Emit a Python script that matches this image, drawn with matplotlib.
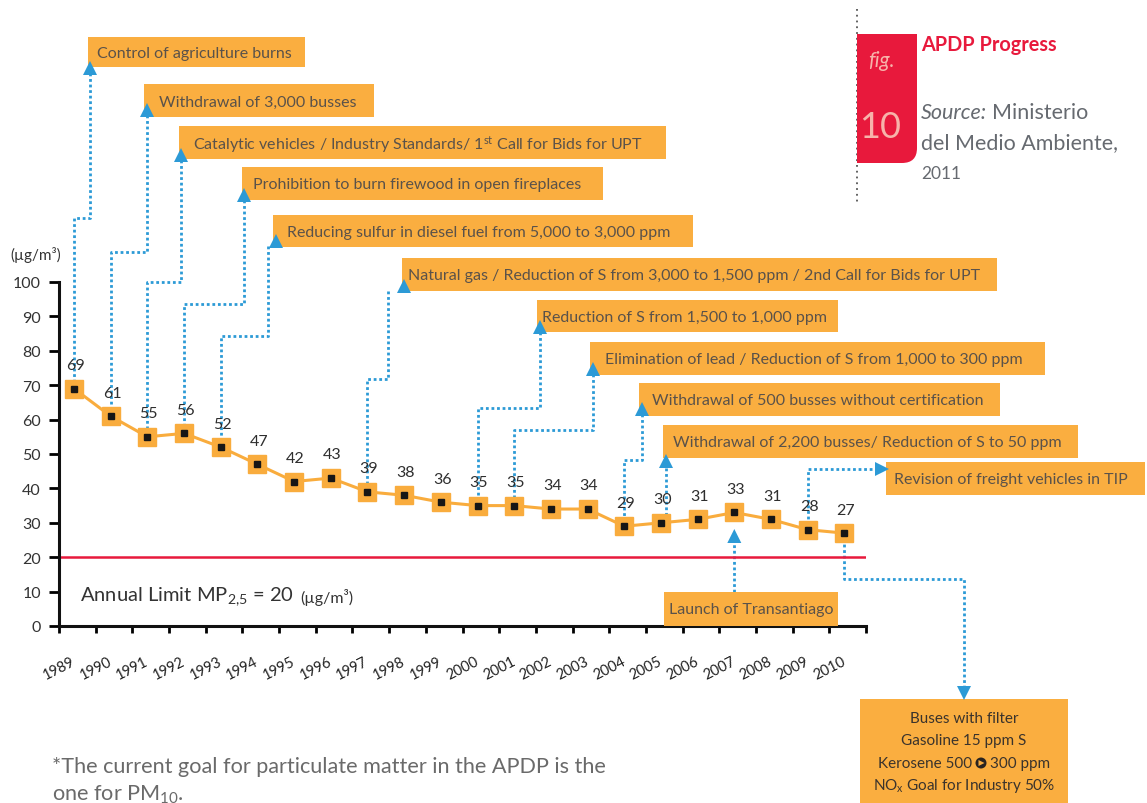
import matplotlib
matplotlib.use('Agg')
import matplotlib.pyplot as plt
from matplotlib.patches import Rectangle, Polygon, PathPatch, Circle
from matplotlib.path import Path

# ---------------- data ----------------
years = ['1989', '1990', '1991', '1992', '1993', '1994', '1995', '1996', '1997', '1998', '1999',
         '2000', '2001', '2002', '2003', '2004', '2005', '2006', '2007', '2008', '2009', '2010']
pm25 = [69, 61, 55, 56, 52, 47, 42, 43, 39, 38, 36, 35, 35, 34, 34, 29, 30, 31, 33, 31, 28, 27]
annual_limit = 20
y_ticks = [0, 10, 20, 30, 40, 50, 60, 70, 80, 90, 100]

event_texts = [
    "Control of agriculture burns",
    "Withdrawal of 3,000 busses",
    r"Catalytic vehicles / Industry Standards/ 1$\mathregular{^{st}}$ Call for Bids for UPT",
    "Prohibition to burn firewood in open fireplaces",
    "Reducing sulfur in diesel fuel from 5,000 to 3,000 ppm",
    "Natural gas / Reduction of S from 3,000 to 1,500 ppm / 2nd Call for Bids for UPT",
    "Reduction of S from 1,500 to 1,000 ppm",
    "Elimination of lead / Reduction of S from 1,000 to 300 ppm",
    "Withdrawal of 500 busses without certification",
    "Withdrawal of 2,200 busses/ Reduction of S to 50 ppm",
]
event_years = ['1989', '1990', '1991', '1992', '1993', '1997', '2000', '2001', '2004', '2005']

freight_text = "Revision of freight vehicles in TIP"
freight_year = '2009'
transantiago_text = "Launch of Transantiago"
transantiago_year = '2007'
filter_lines = ["Buses with filter", "Gasoline 15 ppm S", ("Kerosene 500", "300 ppm"),
                r"NO$\mathregular{_x}$ Goal for Industry 50%"]
filter_year = '2010'

# ---------------- layout (pixels, origin top-left) ----------------
# box x0, y0, x1, y1, text pad, arrow x, arrow apex y, line x, elbow y
event_layout = [
    (88, 38, 305, 68, 9, 90, 62, 90, 219),
    (144, 85, 374, 118, 15, 147, 104, 147, 253),
    (179, 127, 666, 160, 14, 181, 149, 181, 283),
    (242, 168, 603, 201, 11, 244, 189, 244, 305),
    (273, 216, 693, 248, 14, 276, 235, 268, 337),
    (402, 259, 997, 292, 6, 404, 280, 388, 380),
    (537, 301, 838, 333, 5, 540, 321, 540, 409),
    (590, 343, 1045, 376, 15, 593, 363, 593, 431),
    (639, 384, 1000, 417, 13, 642, 403, 642, 461),
    (663, 426, 1078, 459, 10, 666, 455, 666, None),
]

W, H = 1147, 804
ORANGE = '#F9AC3D'
BOX = '#FAAE40'
BLUE = '#2C9AD6'
RED = '#E8193C'
TXT = '#5a524a'
GRAY = '#666a70'

plt.rcParams['font.family'] = ['Lato', 'DejaVu Sans']
plt.rcParams['mathtext.fontset'] = 'custom'
plt.rcParams['mathtext.rm'] = 'Lato'
plt.rcParams['mathtext.it'] = 'Lato:italic'
plt.rcParams['mathtext.bf'] = 'Lato:bold'

fig = plt.figure(figsize=(W / 100, H / 100), dpi=100)
fig.patch.set_facecolor('white')

bg = fig.add_axes([0, 0, 1, 1], zorder=0)
ax = fig.add_axes([59 / W, (H - 627) / H, (866 - 59) / W, (627 - 283) / H], zorder=1)
fg = fig.add_axes([0, 0, 1, 1], zorder=2)
for o in (bg, fg):
    o.set_xlim(0, W)
    o.set_ylim(H, 0)
    o.axis('off')
ax.patch.set_alpha(0)

# ---------------- main chart ----------------
xs = list(range(len(years)))
ax.set_xlim(-0.41, len(years) - 0.41)
ax.set_ylim(0, 100)
ax.axhline(annual_limit, color=RED, lw=1.8, zorder=2)
ax.plot(xs, pm25, color=ORANGE, lw=2.2, zorder=3, clip_on=False)
ax.plot(xs, pm25, 's', ms=13, mfc=ORANGE, mec=ORANGE, zorder=4, clip_on=False)
ax.plot(xs, pm25, 's', ms=5, mfc='#161616', mec='#161616', zorder=5, clip_on=False)
for xi, v in zip(xs, pm25):
    ax.annotate(str(v), (xi, v), xytext=(1, 17), textcoords='offset points',
                ha='center', va='center', fontsize=11.5, color='#2e2e2e', zorder=6)

for s in ('top', 'right'):
    ax.spines[s].set_visible(False)
for s in ('left', 'bottom'):
    ax.spines[s].set_linewidth(2.2)
    ax.spines[s].set_color('#111111')
ax.set_xticks([i - 0.41 for i in range(len(years) + 1)])
ax.set_xticklabels(years + [''], rotation=27, ha='center', fontsize=10.5, color='#222222')
ax.tick_params(axis='x', direction='out', length=5, width=2, pad=15)
ax.set_yticks(y_ticks)
ax.set_yticklabels([str(t) for t in y_ticks], fontsize=11.5, color='#333333')
ax.tick_params(axis='y', direction='out', length=7, width=2, pad=6)


def pt_px(year, value_list=pm25):
    i = years.index(year)
    dx, dy = ax.transData.transform((i, value_list[i]))
    return dx, H - dy


def dotted(pts, lw=2.0):
    bg.plot([p[0] for p in pts], [p[1] for p in pts], color=BLUE, lw=lw,
            ls=(0, (1, 1)), solid_capstyle='butt', dash_capstyle='butt')


def tri(x, y, d, s=7, h=14, color=BLUE, z=6):
    if d == 'up':
        pts = [(x - s, y + h), (x + s, y + h), (x, y)]
    elif d == 'down':
        pts = [(x - s, y - h), (x + s, y - h), (x, y)]
    else:
        pts = [(x - h, y - s), (x - h, y + s), (x, y)]
    fg.add_patch(Polygon(pts, closed=True, fc=color, ec='none', zorder=z))


def box(x0, y0, x1, y1):
    fg.add_patch(Rectangle((x0, y0), x1 - x0, y1 - y0, fc=BOX, ec='none', zorder=4))


# ---------------- event boxes ----------------
for text, yr, lay in zip(event_texts, event_years, event_layout):
    x0, y0, x1, y1, pad, axx, apex, lx, elbow = lay
    box(x0, y0, x1, y1)
    fg.text(x0 + pad, (y0 + y1) / 2 + 1, text, ha='left', va='center', fontsize=11.5,
            color=TXT, zorder=7)
    tri(axx, apex, 'up')
    px, py = pt_px(yr)
    if elbow is None:
        dotted([(lx, apex + 14), (lx, py)])
    else:
        dotted([(lx, apex + 12), (lx, elbow), (px, elbow), (px, py)])

# freight vehicles
box(886, 463, 1145, 496)
fg.text(894, 480, freight_text, ha='left', va='center', fontsize=11.5, color=TXT, zorder=7)
px, py = pt_px(freight_year)
dotted([(px, py), (px, 470), (874, 470)])
tri(889, 470, 'right')

# Transantiago
box(664, 593, 838, 627)
fg.text(751, 610, transantiago_text, ha='center', va='center', fontsize=11.5, color=TXT, zorder=7)
px, py = pt_px(transantiago_year)
dotted([(px, 593), (px, 544)])
tri(px, 530, 'up')

renderer = fig.canvas.get_renderer()

# buses with filter
box(860, 700, 1068, 804)
FCOL = '#3a332c'
for k, line in enumerate(filter_lines):
    yl = 719 + k * 22.5
    if isinstance(line, tuple):
        tl = fg.text(0, yl, line[0], ha='left', va='center', fontsize=11, color=FCOL, zorder=7)
        tr = fg.text(0, yl, line[1], ha='left', va='center', fontsize=11, color=FCOL, zorder=7)
        wl = tl.get_window_extent(renderer).width
        wr = tr.get_window_extent(renderer).width
        gap = 18
        xs0 = 964 - (wl + gap + wr) / 2
        tl.set_x(xs0)
        tr.set_x(xs0 + wl + gap)
        cx = xs0 + wl + gap / 2
        fg.add_patch(Circle((cx, yl), 5.5, fc='#2a2420', ec='none', zorder=7))
        tri(cx + 3.5, yl, 'right', s=3, h=6, color=BOX, z=8)
    else:
        fg.text(964, yl, line, ha='center', va='center', fontsize=11, color=FCOL, zorder=7)
px, py = pt_px(filter_year)
dotted([(px, py), (px, 580), (964, 580), (964, 688)])
tri(964, 701, 'down')

# ---------------- annotations text ----------------
fg.text(10, 255, "(\u00b5g/m\u00b3)", ha='left', va='center', fontsize=11, color='#333333')

t = fg.text(80, 597, r"Annual Limit MP$\mathregular{_{2{,}5}}$ = 20", ha='left', va='center',
            fontsize=14.5, color='#333333', zorder=7)
bb = t.get_window_extent(renderer)
fg.text(bb.x1 + 6, 598, "(\u00b5g/m\u00b3)", ha='left', va='center', fontsize=11.5,
        color='#333333', zorder=7)

# figure tag (top right)
fg.plot([857, 857], [10, 205], color='#555555', lw=1.3, ls=(0, (1, 2.2)))
r = 15
verts = [(857, 35), (917, 35), (917, 164 - r), (917, 164), (917 - r, 164), (857, 164), (857, 35)]
codes = [Path.MOVETO, Path.LINETO, Path.LINETO, Path.CURVE3, Path.CURVE3, Path.LINETO, Path.CLOSEPOLY]
fg.add_patch(PathPatch(Path(verts, codes), fc=RED, ec='none', zorder=5))
fg.text(881, 61, "fig.", ha='center', va='center', fontsize=15, style='italic',
        color='#F7B3AA', zorder=6)
fg.text(880, 127, "10", ha='center', va='center', fontsize=26, color='#F7B3AA', zorder=6)

fg.text(921, 45, "APDP Progress", ha='left', va='center', fontsize=14.3, color=RED,
        fontweight='bold')
t = fg.text(921, 113, "Source:", ha='left', va='center', fontsize=15.5, style='italic', color=GRAY)
bb = t.get_window_extent(renderer)
fg.text(bb.x1 + 5, 113, "Ministerio", ha='left', va='center', fontsize=15.5, color=GRAY)
fg.text(921, 143, "del Medio Ambiente,", ha='left', va='center', fontsize=15.5, color=GRAY)
fg.text(921, 174, "2011", ha='left', va='center', fontsize=12.5, color=GRAY)

# footnote
fg.text(52, 767, "*The current goal for particulate matter in the APDP is the", ha='left',
        va='center', fontsize=15.6, color='#6a6a6a')
fg.text(52, 795, r"one for PM$\mathregular{_{10}}$.", ha='left', va='center', fontsize=15.6,
        color='#6a6a6a')

fig.savefig('out.png', dpi=100, facecolor='white')
